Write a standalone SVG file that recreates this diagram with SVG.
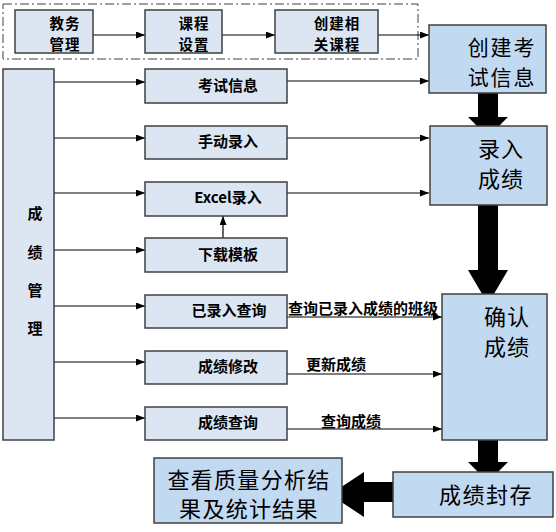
<svg xmlns="http://www.w3.org/2000/svg" width="556" height="532" viewBox="0 0 556 532">
<style>
.sm{fill:#dce6f2;stroke:#404040;stroke-width:1.5}
.bg{fill:#c2d9f2;stroke:#404040;stroke-width:1.5}
.t{font-family:"Noto Sans CJK SC","Liberation Sans",sans-serif;font-weight:bold;font-size:15px;fill:#000;text-anchor:middle;dominant-baseline:central}
.tt{font-family:"Noto Sans CJK SC","Liberation Sans",sans-serif;font-weight:bold;font-size:14.5px;fill:#000;text-anchor:middle;dominant-baseline:central;letter-spacing:1px}
.L{font-family:"Noto Sans CJK SC",sans-serif;font-size:22px;fill:#000;text-anchor:middle;dominant-baseline:central;letter-spacing:1px}
.lb{font-family:"Noto Sans CJK SC","Liberation Sans",sans-serif;font-weight:bold;font-size:15px;fill:#000;dominant-baseline:alphabetic}
.ln{stroke:#000;stroke-width:1.2;fill:none;marker-end:url(#ah)}
</style>
<defs>
<marker id="ah" markerWidth="9" markerHeight="7" refX="9" refY="3.5" orient="auto" markerUnits="userSpaceOnUse">
<path d="M0,0 L9,3.5 L0,7 Z" fill="#000"/>
</marker>
</defs>
<rect x="3" y="4" width="415" height="55" fill="none" stroke="#404040" stroke-width="1" stroke-dasharray="9 3 2 3"/>
<g id="labels">
<text class="lb" x="288" y="314">查询已录入成绩的班级</text>
<text class="lb" x="306" y="370">更新成绩</text>
<text class="lb" x="321" y="427">查询成绩</text>
</g>
<g id="connectors">
<line class="ln" x1="93" y1="35" x2="145" y2="35"/>
<line class="ln" x1="222" y1="35" x2="275" y2="35"/>
<line class="ln" x1="378" y1="35" x2="429" y2="35"/>
<line class="ln" x1="54" y1="82" x2="145" y2="82"/>
<line class="ln" x1="54" y1="138" x2="145" y2="138"/>
<line class="ln" x1="54" y1="193" x2="145" y2="193"/>
<line class="ln" x1="54" y1="250" x2="145" y2="250"/>
<line class="ln" x1="54" y1="306" x2="145" y2="306"/>
<line class="ln" x1="54" y1="362" x2="145" y2="362"/>
<line class="ln" x1="54" y1="418" x2="145" y2="418"/>
<line class="ln" x1="223" y1="238" x2="223" y2="216"/>
<line class="ln" x1="287" y1="81" x2="429" y2="81"/>
<line class="ln" x1="287" y1="138" x2="429" y2="138"/>
<line class="ln" x1="287" y1="193" x2="429" y2="193"/>
<line class="ln" x1="287" y1="317" x2="442" y2="317"/>
<line class="ln" x1="287" y1="374" x2="442" y2="374"/>
<line class="ln" x1="287" y1="429" x2="442" y2="429"/>
<path d="M478,93 H498 V117 H508 L488,137 L468,117 H478 Z" fill="#000"/>
<path d="M478,205 H498 V270 H508 L488,304 L468,270 H478 Z" fill="#000"/>
<path d="M478,440 H498 V462 H508 L488,482 L468,462 H478 Z" fill="#000"/>
<path d="M393,482 V502 H364 V517 L330,494.5 L364,472 V482 Z" fill="#000"/>
</g>
<g id="n1"><rect class="sm" x="15" y="10" width="78" height="43"/><text class="tt" x="65" y="22">教务</text><text class="tt" x="65" y="43">管理</text></g>
<g id="n2"><rect class="sm" x="145" y="10" width="77" height="43"/><text class="tt" x="194" y="22">课程</text><text class="tt" x="194" y="43">设置</text></g>
<g id="n3"><rect class="sm" x="275" y="10" width="103" height="43"/><text class="tt" x="337" y="22">创建相</text><text class="tt" x="337" y="43">关课程</text></g>
<g id="n4"><rect class="bg" x="429" y="25" width="117" height="68"/><text class="L" x="502" y="46" style="font-size:21px;letter-spacing:1.8px">创建考</text><text class="L" x="502" y="76" style="font-size:21px;letter-spacing:1.8px">试信息</text></g>
<g id="n5"><rect class="sm" x="3" y="69" width="51" height="371"/><text class="t" x="35" y="212">成</text><text class="t" x="35" y="251">绩</text><text class="t" x="35" y="289">管</text><text class="t" x="35" y="327">理</text></g>
<g id="n6"><rect class="sm" x="145" y="69" width="142" height="34"/><text class="t" x="228" y="84">考试信息</text></g>
<g id="n7"><rect class="sm" x="145" y="126" width="142" height="33"/><text class="t" x="228" y="140">手动录入</text></g>
<g id="n8"><rect class="sm" x="145" y="182" width="142" height="34"/><text class="t" x="228" y="196">Excel录入</text></g>
<g id="n9"><rect class="sm" x="145" y="238" width="142" height="34"/><text class="t" x="228" y="253">下载模板</text></g>
<g id="n10"><rect class="sm" x="145" y="295" width="142" height="33"/><text class="t" x="229" y="309">已录入查询</text></g>
<g id="n11"><rect class="sm" x="145" y="351" width="142" height="33"/><text class="t" x="228" y="365">成绩修改</text></g>
<g id="n12"><rect class="sm" x="145" y="407" width="142" height="33"/><text class="t" x="228" y="421">成绩查询</text></g>
<g id="n13"><rect class="bg" x="430" y="126" width="117" height="79"/><text class="L" x="501" y="147">录入</text><text class="L" x="501" y="177">成绩</text></g>
<g id="n14"><rect class="bg" x="442" y="294" width="105" height="146"/><text class="L" x="507" y="315">确认</text><text class="L" x="507" y="345">成绩</text></g>
<g id="n15"><rect class="bg" x="393" y="472" width="160" height="45"/><text class="L" x="486" y="493" style="letter-spacing:1.5px">成绩封存</text></g>
<g id="n16"><rect class="bg" x="154" y="458" width="188" height="65"/><text class="L" x="249" y="478" style="letter-spacing:1.3px">查看质量分析结</text><text class="L" x="249" y="507" style="letter-spacing:1.3px">果及统计结果</text></g>
</svg>
